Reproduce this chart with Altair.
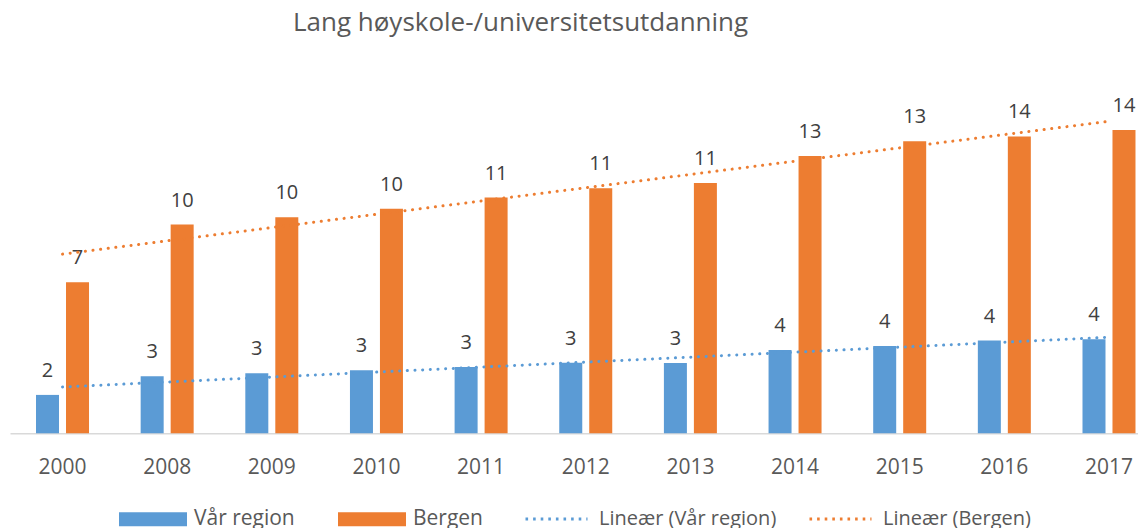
import altair as alt
import pandas as pd

# ---- data ----
years = ["2000", "2008", "2009", "2010", "2011", "2012", "2013", "2014", "2015", "2016", "2017"]
var_region = [1.76, 2.61, 2.75, 2.89, 3.04, 3.24, 3.22, 3.82, 4.00, 4.25, 4.31]
bergen = [6.93, 9.57, 9.91, 10.30, 10.81, 11.24, 11.47, 12.71, 13.39, 13.61, 13.91]
series = ["Vår region", "Bergen"]
trend_names = ["Lineær (Vår region)", "Lineær (Bergen)"]
title_text = "Lang høyskole-/universitetsutdanning"
colors = ["#5B9BD5", "#ED7D31"]

rows = []
for i, yr in enumerate(years):
    rows.append({"year": yr, "idx": i + 1, "series": series[0], "value": var_region[i]})
    rows.append({"year": yr, "idx": i + 1, "series": series[1], "value": bergen[i]})
df = pd.DataFrame(rows)

W, H = 1128, 349
FONT = "Open Sans"

base = alt.Chart(df)

x_band = alt.X(
    "year:N", sort=years, title=None,
    scale=alt.Scale(paddingInner=0.4936, paddingOuter=0.1363, align=0.912, round=False),
    axis=alt.Axis(domainColor="#D9D9D9", domainWidth=1.5, ticks=False, tickSize=0,
                  labelPadding=40, labelBaseline="alphabetic", labelFontSize=21,
                  labelColor="#595959", labelFont=FONT, labelAngle=0, grid=False),
)
y_enc = alt.Y("value:Q", scale=alt.Scale(domain=[0, 16], nice=False), axis=None)
xoff = alt.XOffset("series:N", sort=series,
                   scale=alt.Scale(paddingInner=0.233, paddingOuter=0, round=False))

bars = base.mark_bar().encode(
    x=x_band, xOffset=xoff, y=y_enc,
    fill=alt.Fill(
        "series:N", sort=series,
        scale=alt.Scale(domain=series, range=colors),
        legend=alt.Legend(title=None, orient="none", legendX=109, legendY=401,
                          direction="horizontal",
                          symbolType="M-1,-0.206H1V0.206H-1Z", symbolSize=4624,
                          symbolStrokeWidth=0, labelOffset=7, columnPadding=43,
                          labelFontSize=21, labelColor="#595959", labelFont=FONT,
                          padding=0, labelLimit=400),
    ),
)

labels = base.mark_text(baseline="alphabetic", dy=-18, fontSize=20, color="#404040", font=FONT).encode(
    x=x_band, xOffset=xoff, y=y_enc,
    text=alt.Text("value:Q", format=".0f"),
)

trend = base.transform_regression(
    "idx", "value", groupby=["series"]
).transform_calculate(
    trend="'Lineær (' + datum.series + ')'"
).mark_line(strokeWidth=3, strokeDash=[0.1, 7.57], strokeCap="round").encode(
    x=alt.X("idx:Q", scale=alt.Scale(domain=[0.49833, 11.2771], nice=False, zero=False), axis=None),
    y=y_enc,
    stroke=alt.Stroke(
        "trend:N", sort=trend_names,
        scale=alt.Scale(domain=trend_names, range=colors),
        legend=alt.Legend(title=None, orient="none", legendX=514, legendY=402,
                          direction="horizontal", symbolType="stroke", symbolSize=3844,
                          symbolDash=[2.6, 5], symbolStrokeWidth=3,
                          labelOffset=10, columnPadding=26,
                          labelFontSize=20, labelColor="#595959", labelFont=FONT,
                          padding=0, labelLimit=400),
    ),
)

chart = alt.layer(alt.layer(bars, labels), trend).resolve_scale(
    x="independent"
).properties(
    width=W, height=H,
    title=alt.TitleParams(title_text, anchor="start", frame="group", dx=283,
                          fontSize=26, font=FONT, color="#595959", fontWeight="normal",
                          baseline="alphabetic", offset=27),
    padding={"left": 2, "top": 76.3, "right": 0, "bottom": 112},
    autosize=alt.AutoSizeParams(type="none"),
).configure_view(stroke=None)

chart.save("out.html", embed_options={"renderer": "svg", "actions": False})
